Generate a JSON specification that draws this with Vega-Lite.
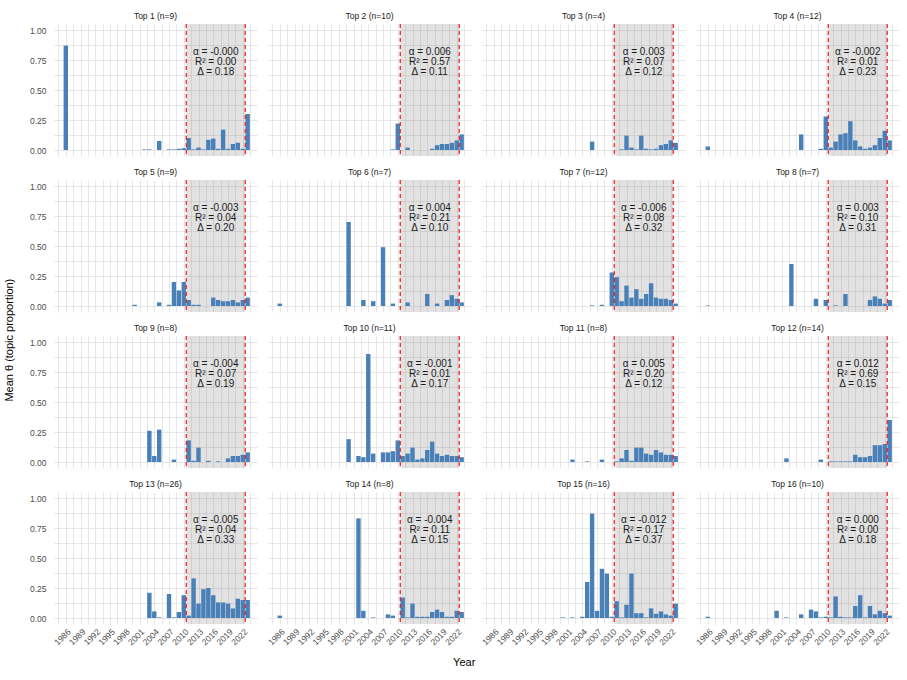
{
  "$schema": "https://vega.github.io/schema/vega-lite/v6.json",
  "background": "white",
  "padding": {"left": 4, "top": 11, "right": 4, "bottom": 4},
  "datasets": {
    "panels": [
      {"p": 1, "t": "Top 1 (n=9)", "lbl": "α = -0.000\nR² = 0.00\nΔ = 0.18", "win_lo": 2010.5, "win_hi": 2022.5},
      {"p": 2, "t": "Top 2 (n=10)", "lbl": "α = 0.006\nR² = 0.57\nΔ = 0.11", "win_lo": 2010.5, "win_hi": 2022.5},
      {"p": 3, "t": "Top 3 (n=4)", "lbl": "α = 0.003\nR² = 0.07\nΔ = 0.12", "win_lo": 2010.5, "win_hi": 2022.5},
      {"p": 4, "t": "Top 4 (n=12)", "lbl": "α = -0.002\nR² = 0.01\nΔ = 0.23", "win_lo": 2010.5, "win_hi": 2022.5},
      {"p": 5, "t": "Top 5 (n=9)", "lbl": "α = -0.003\nR² = 0.04\nΔ = 0.20", "win_lo": 2010.5, "win_hi": 2022.5},
      {"p": 6, "t": "Top 6 (n=7)", "lbl": "α = 0.004\nR² = 0.21\nΔ = 0.10", "win_lo": 2010.5, "win_hi": 2022.5},
      {"p": 7, "t": "Top 7 (n=12)", "lbl": "α = -0.006\nR² = 0.08\nΔ = 0.32", "win_lo": 2010.5, "win_hi": 2022.5},
      {"p": 8, "t": "Top 8 (n=7)", "lbl": "α = 0.003\nR² = 0.10\nΔ = 0.31", "win_lo": 2010.5, "win_hi": 2022.5},
      {"p": 9, "t": "Top 9 (n=8)", "lbl": "α = -0.004\nR² = 0.07\nΔ = 0.19", "win_lo": 2010.5, "win_hi": 2022.5},
      {"p": 10, "t": "Top 10 (n=11)", "lbl": "α = -0.001\nR² = 0.01\nΔ = 0.17", "win_lo": 2010.5, "win_hi": 2022.5},
      {"p": 11, "t": "Top 11 (n=8)", "lbl": "α = 0.005\nR² = 0.20\nΔ = 0.12", "win_lo": 2010.5, "win_hi": 2022.5},
      {"p": 12, "t": "Top 12 (n=14)", "lbl": "α = 0.012\nR² = 0.69\nΔ = 0.15", "win_lo": 2010.5, "win_hi": 2022.5},
      {"p": 13, "t": "Top 13 (n=26)", "lbl": "α = -0.005\nR² = 0.04\nΔ = 0.33", "win_lo": 2010.5, "win_hi": 2022.5},
      {"p": 14, "t": "Top 14 (n=8)", "lbl": "α = -0.004\nR² = 0.11\nΔ = 0.15", "win_lo": 2010.5, "win_hi": 2022.5},
      {"p": 15, "t": "Top 15 (n=16)", "lbl": "α = -0.012\nR² = 0.17\nΔ = 0.37", "win_lo": 2010.5, "win_hi": 2022.5},
      {"p": 16, "t": "Top 16 (n=10)", "lbl": "α = 0.000\nR² = 0.00\nΔ = 0.18", "win_lo": 2010.5, "win_hi": 2022.5}
    ],
    "bars": [
      {"p": 1, "year": 1986, "v": 0.87}, {"p": 1, "year": 2002, "v": 0.005}, {"p": 1, "year": 2003, "v": 0.005},
      {"p": 1, "year": 2005, "v": 0.075}, {"p": 1, "year": 2007, "v": 0.005}, {"p": 1, "year": 2008, "v": 0.005},
      {"p": 1, "year": 2009, "v": 0.01}, {"p": 1, "year": 2010, "v": 0.015}, {"p": 1, "year": 2011, "v": 0.1},
      {"p": 1, "year": 2012, "v": 0.005}, {"p": 1, "year": 2013, "v": 0.02}, {"p": 1, "year": 2014, "v": 0.005},
      {"p": 1, "year": 2015, "v": 0.085}, {"p": 1, "year": 2016, "v": 0.095}, {"p": 1, "year": 2017, "v": 0.01},
      {"p": 1, "year": 2018, "v": 0.17}, {"p": 1, "year": 2019, "v": 0.01}, {"p": 1, "year": 2020, "v": 0.05},
      {"p": 1, "year": 2021, "v": 0.06}, {"p": 1, "year": 2022, "v": 0.01}, {"p": 1, "year": 2023, "v": 0.3},

      {"p": 2, "year": 2009, "v": 0.005}, {"p": 2, "year": 2010, "v": 0.22}, {"p": 2, "year": 2012, "v": 0.02},
      {"p": 2, "year": 2017, "v": 0.01}, {"p": 2, "year": 2018, "v": 0.04}, {"p": 2, "year": 2019, "v": 0.05},
      {"p": 2, "year": 2020, "v": 0.05}, {"p": 2, "year": 2021, "v": 0.06}, {"p": 2, "year": 2022, "v": 0.08},
      {"p": 2, "year": 2023, "v": 0.13},

      {"p": 3, "year": 2006, "v": 0.07}, {"p": 3, "year": 2012, "v": 0.005}, {"p": 3, "year": 2013, "v": 0.12},
      {"p": 3, "year": 2014, "v": 0.02}, {"p": 3, "year": 2015, "v": 0.005}, {"p": 3, "year": 2016, "v": 0.12},
      {"p": 3, "year": 2017, "v": 0.01}, {"p": 3, "year": 2018, "v": 0.005}, {"p": 3, "year": 2019, "v": 0.01},
      {"p": 3, "year": 2020, "v": 0.04}, {"p": 3, "year": 2021, "v": 0.05}, {"p": 3, "year": 2022, "v": 0.08},
      {"p": 3, "year": 2023, "v": 0.06},

      {"p": 4, "year": 1986, "v": 0.03}, {"p": 4, "year": 2005, "v": 0.13}, {"p": 4, "year": 2009, "v": 0.01},
      {"p": 4, "year": 2010, "v": 0.28}, {"p": 4, "year": 2011, "v": 0.02}, {"p": 4, "year": 2012, "v": 0.07},
      {"p": 4, "year": 2013, "v": 0.13}, {"p": 4, "year": 2014, "v": 0.14}, {"p": 4, "year": 2015, "v": 0.24},
      {"p": 4, "year": 2016, "v": 0.08}, {"p": 4, "year": 2017, "v": 0.03}, {"p": 4, "year": 2018, "v": 0.01},
      {"p": 4, "year": 2019, "v": 0.02}, {"p": 4, "year": 2020, "v": 0.04}, {"p": 4, "year": 2021, "v": 0.1},
      {"p": 4, "year": 2022, "v": 0.16}, {"p": 4, "year": 2023, "v": 0.08},

      {"p": 5, "year": 2000, "v": 0.01}, {"p": 5, "year": 2005, "v": 0.03}, {"p": 5, "year": 2007, "v": 0.01},
      {"p": 5, "year": 2008, "v": 0.2}, {"p": 5, "year": 2009, "v": 0.13}, {"p": 5, "year": 2010, "v": 0.2},
      {"p": 5, "year": 2011, "v": 0.05}, {"p": 5, "year": 2012, "v": 0.01}, {"p": 5, "year": 2013, "v": 0.01},
      {"p": 5, "year": 2016, "v": 0.07}, {"p": 5, "year": 2017, "v": 0.05}, {"p": 5, "year": 2018, "v": 0.04},
      {"p": 5, "year": 2019, "v": 0.04}, {"p": 5, "year": 2020, "v": 0.05}, {"p": 5, "year": 2021, "v": 0.03},
      {"p": 5, "year": 2022, "v": 0.05}, {"p": 5, "year": 2023, "v": 0.07},

      {"p": 6, "year": 1986, "v": 0.02}, {"p": 6, "year": 2000, "v": 0.7}, {"p": 6, "year": 2003, "v": 0.05},
      {"p": 6, "year": 2005, "v": 0.04}, {"p": 6, "year": 2007, "v": 0.49}, {"p": 6, "year": 2009, "v": 0.02},
      {"p": 6, "year": 2012, "v": 0.03}, {"p": 6, "year": 2016, "v": 0.1}, {"p": 6, "year": 2018, "v": 0.02},
      {"p": 6, "year": 2020, "v": 0.05}, {"p": 6, "year": 2021, "v": 0.09}, {"p": 6, "year": 2022, "v": 0.06},
      {"p": 6, "year": 2023, "v": 0.03},

      {"p": 7, "year": 2006, "v": 0.005}, {"p": 7, "year": 2008, "v": 0.01}, {"p": 7, "year": 2010, "v": 0.28},
      {"p": 7, "year": 2011, "v": 0.24}, {"p": 7, "year": 2012, "v": 0.04}, {"p": 7, "year": 2013, "v": 0.17},
      {"p": 7, "year": 2014, "v": 0.07}, {"p": 7, "year": 2015, "v": 0.14}, {"p": 7, "year": 2016, "v": 0.06},
      {"p": 7, "year": 2017, "v": 0.1}, {"p": 7, "year": 2018, "v": 0.19}, {"p": 7, "year": 2019, "v": 0.07},
      {"p": 7, "year": 2020, "v": 0.06}, {"p": 7, "year": 2021, "v": 0.06}, {"p": 7, "year": 2022, "v": 0.05},
      {"p": 7, "year": 2023, "v": 0.02},

      {"p": 8, "year": 1986, "v": 0.005}, {"p": 8, "year": 2003, "v": 0.35}, {"p": 8, "year": 2008, "v": 0.06},
      {"p": 8, "year": 2010, "v": 0.05}, {"p": 8, "year": 2012, "v": 0.005}, {"p": 8, "year": 2014, "v": 0.1},
      {"p": 8, "year": 2019, "v": 0.05}, {"p": 8, "year": 2020, "v": 0.08}, {"p": 8, "year": 2021, "v": 0.06},
      {"p": 8, "year": 2022, "v": 0.02}, {"p": 8, "year": 2023, "v": 0.05},

      {"p": 9, "year": 2003, "v": 0.26}, {"p": 9, "year": 2004, "v": 0.05}, {"p": 9, "year": 2005, "v": 0.27},
      {"p": 9, "year": 2008, "v": 0.02}, {"p": 9, "year": 2011, "v": 0.18}, {"p": 9, "year": 2012, "v": 0.01},
      {"p": 9, "year": 2013, "v": 0.12}, {"p": 9, "year": 2015, "v": 0.01}, {"p": 9, "year": 2017, "v": 0.005},
      {"p": 9, "year": 2019, "v": 0.03}, {"p": 9, "year": 2020, "v": 0.05}, {"p": 9, "year": 2021, "v": 0.05},
      {"p": 9, "year": 2022, "v": 0.06}, {"p": 9, "year": 2023, "v": 0.08},

      {"p": 10, "year": 2000, "v": 0.19}, {"p": 10, "year": 2002, "v": 0.05}, {"p": 10, "year": 2003, "v": 0.04},
      {"p": 10, "year": 2004, "v": 0.9}, {"p": 10, "year": 2005, "v": 0.07}, {"p": 10, "year": 2007, "v": 0.08},
      {"p": 10, "year": 2008, "v": 0.08}, {"p": 10, "year": 2009, "v": 0.09}, {"p": 10, "year": 2010, "v": 0.18},
      {"p": 10, "year": 2011, "v": 0.05}, {"p": 10, "year": 2012, "v": 0.07}, {"p": 10, "year": 2013, "v": 0.12},
      {"p": 10, "year": 2014, "v": 0.02}, {"p": 10, "year": 2015, "v": 0.03}, {"p": 10, "year": 2016, "v": 0.1},
      {"p": 10, "year": 2017, "v": 0.17}, {"p": 10, "year": 2018, "v": 0.07}, {"p": 10, "year": 2019, "v": 0.05},
      {"p": 10, "year": 2020, "v": 0.06}, {"p": 10, "year": 2021, "v": 0.05}, {"p": 10, "year": 2022, "v": 0.05},
      {"p": 10, "year": 2023, "v": 0.04},

      {"p": 11, "year": 2002, "v": 0.02}, {"p": 11, "year": 2005, "v": 0.005}, {"p": 11, "year": 2008, "v": 0.02},
      {"p": 11, "year": 2011, "v": 0.005}, {"p": 11, "year": 2012, "v": 0.03}, {"p": 11, "year": 2013, "v": 0.1},
      {"p": 11, "year": 2014, "v": 0.01}, {"p": 11, "year": 2015, "v": 0.12}, {"p": 11, "year": 2016, "v": 0.12},
      {"p": 11, "year": 2017, "v": 0.07}, {"p": 11, "year": 2018, "v": 0.06}, {"p": 11, "year": 2019, "v": 0.1},
      {"p": 11, "year": 2020, "v": 0.08}, {"p": 11, "year": 2021, "v": 0.06}, {"p": 11, "year": 2022, "v": 0.06},
      {"p": 11, "year": 2023, "v": 0.05},

      {"p": 12, "year": 2002, "v": 0.03}, {"p": 12, "year": 2009, "v": 0.02}, {"p": 12, "year": 2011, "v": 0.005},
      {"p": 12, "year": 2012, "v": 0.005}, {"p": 12, "year": 2013, "v": 0.005}, {"p": 12, "year": 2014, "v": 0.005},
      {"p": 12, "year": 2015, "v": 0.005}, {"p": 12, "year": 2016, "v": 0.06}, {"p": 12, "year": 2017, "v": 0.04},
      {"p": 12, "year": 2018, "v": 0.04}, {"p": 12, "year": 2019, "v": 0.05}, {"p": 12, "year": 2020, "v": 0.14},
      {"p": 12, "year": 2021, "v": 0.14}, {"p": 12, "year": 2022, "v": 0.15}, {"p": 12, "year": 2023, "v": 0.35},

      {"p": 13, "year": 2003, "v": 0.21}, {"p": 13, "year": 2004, "v": 0.055}, {"p": 13, "year": 2005, "v": 0.005},
      {"p": 13, "year": 2007, "v": 0.2}, {"p": 13, "year": 2008, "v": 0.005}, {"p": 13, "year": 2009, "v": 0.05},
      {"p": 13, "year": 2010, "v": 0.19}, {"p": 13, "year": 2011, "v": 0.02}, {"p": 13, "year": 2012, "v": 0.33},
      {"p": 13, "year": 2013, "v": 0.12}, {"p": 13, "year": 2014, "v": 0.24}, {"p": 13, "year": 2015, "v": 0.25},
      {"p": 13, "year": 2016, "v": 0.19}, {"p": 13, "year": 2017, "v": 0.13}, {"p": 13, "year": 2018, "v": 0.13},
      {"p": 13, "year": 2019, "v": 0.12}, {"p": 13, "year": 2020, "v": 0.08}, {"p": 13, "year": 2021, "v": 0.16},
      {"p": 13, "year": 2022, "v": 0.15}, {"p": 13, "year": 2023, "v": 0.15},

      {"p": 14, "year": 1986, "v": 0.02}, {"p": 14, "year": 2002, "v": 0.83}, {"p": 14, "year": 2003, "v": 0.06},
      {"p": 14, "year": 2005, "v": 0.005}, {"p": 14, "year": 2008, "v": 0.03}, {"p": 14, "year": 2009, "v": 0.02},
      {"p": 14, "year": 2011, "v": 0.17}, {"p": 14, "year": 2012, "v": 0.005}, {"p": 14, "year": 2013, "v": 0.12},
      {"p": 14, "year": 2014, "v": 0.01}, {"p": 14, "year": 2015, "v": 0.01}, {"p": 14, "year": 2016, "v": 0.01},
      {"p": 14, "year": 2017, "v": 0.05}, {"p": 14, "year": 2018, "v": 0.07}, {"p": 14, "year": 2019, "v": 0.05},
      {"p": 14, "year": 2020, "v": 0.01}, {"p": 14, "year": 2021, "v": 0.01}, {"p": 14, "year": 2022, "v": 0.06},
      {"p": 14, "year": 2023, "v": 0.05},

      {"p": 15, "year": 2000, "v": 0.005}, {"p": 15, "year": 2002, "v": 0.005}, {"p": 15, "year": 2004, "v": 0.01},
      {"p": 15, "year": 2005, "v": 0.3}, {"p": 15, "year": 2006, "v": 0.87}, {"p": 15, "year": 2007, "v": 0.06},
      {"p": 15, "year": 2008, "v": 0.41}, {"p": 15, "year": 2009, "v": 0.37}, {"p": 15, "year": 2010, "v": 0.01},
      {"p": 15, "year": 2011, "v": 0.14}, {"p": 15, "year": 2012, "v": 0.005}, {"p": 15, "year": 2013, "v": 0.11},
      {"p": 15, "year": 2014, "v": 0.37}, {"p": 15, "year": 2015, "v": 0.04}, {"p": 15, "year": 2016, "v": 0.04},
      {"p": 15, "year": 2017, "v": 0.005}, {"p": 15, "year": 2018, "v": 0.08}, {"p": 15, "year": 2019, "v": 0.035},
      {"p": 15, "year": 2020, "v": 0.055}, {"p": 15, "year": 2021, "v": 0.03}, {"p": 15, "year": 2022, "v": 0.02},
      {"p": 15, "year": 2023, "v": 0.12},

      {"p": 16, "year": 1986, "v": 0.01}, {"p": 16, "year": 2000, "v": 0.06}, {"p": 16, "year": 2002, "v": 0.005},
      {"p": 16, "year": 2005, "v": 0.03}, {"p": 16, "year": 2007, "v": 0.07}, {"p": 16, "year": 2008, "v": 0.055},
      {"p": 16, "year": 2009, "v": 0.005}, {"p": 16, "year": 2010, "v": 0.01}, {"p": 16, "year": 2011, "v": 0.005},
      {"p": 16, "year": 2012, "v": 0.18}, {"p": 16, "year": 2013, "v": 0.01}, {"p": 16, "year": 2014, "v": 0.005},
      {"p": 16, "year": 2015, "v": 0.005}, {"p": 16, "year": 2016, "v": 0.1}, {"p": 16, "year": 2017, "v": 0.19},
      {"p": 16, "year": 2018, "v": 0.005}, {"p": 16, "year": 2019, "v": 0.1}, {"p": 16, "year": 2020, "v": 0.03},
      {"p": 16, "year": 2021, "v": 0.06}, {"p": 16, "year": 2022, "v": 0.04}, {"p": 16, "year": 2023, "v": 0.02}
    ]
  },
  "title": {"text": "Mean θ (topic proportion)", "orient": "left", "anchor": "middle", "fontSize": 11, "fontWeight": "normal", "color": "#000000", "offset": 14},
  "vconcat": [
    {
      "data": {"name": "bars"},
      "transform": [
        {"lookup": "p", "from": {"data": {"name": "panels"}, "key": "p", "fields": ["t", "lbl", "win_lo", "win_hi"]}}
      ],
      "title": {"text": "Year", "orient": "bottom", "anchor": "middle", "fontSize": 11, "fontWeight": "normal", "color": "#000000", "offset": 11},
      "facet": {
        "field": "t",
        "type": "nominal",
        "sort": ["Top 1 (n=9)", "Top 2 (n=10)", "Top 3 (n=4)", "Top 4 (n=12)",
                 "Top 5 (n=9)", "Top 6 (n=7)", "Top 7 (n=12)", "Top 8 (n=7)",
                 "Top 9 (n=8)", "Top 10 (n=11)", "Top 11 (n=8)", "Top 12 (n=14)",
                 "Top 13 (n=26)", "Top 14 (n=8)", "Top 15 (n=16)", "Top 16 (n=10)"],
        "header": {"title": null, "labelFontSize": 8.5, "labelPadding": 3, "labelColor": "#1a1a1a"}
      },
      "columns": 4,
      "spacing": {"row": 10, "column": 11},
      "spec": {
        "width": 203,
        "height": 132,
        "layer": [
          {
            "transform": [{"aggregate": [{"op": "count", "as": "n"}], "groupby": ["t", "lbl", "win_lo", "win_hi"]}],
            "mark": {"type": "rect", "fill": "#8c8c8c", "opacity": 0.25},
            "encoding": {
              "x": {
                "field": "win_lo", "type": "quantitative", "title": null,
                "scale": {"domain": [1983.6, 2024.9], "nice": false, "zero": false, "padding": 0},
                "axis": {
                  "values": [1984.5, 1986, 1987.5, 1989, 1990.5, 1992, 1993.5, 1995, 1996.5, 1998, 1999.5, 2001, 2002.5,
                             2004, 2005.5, 2007, 2008.5, 2010, 2011.5, 2013, 2014.5, 2016, 2017.5, 2019, 2020.5, 2022, 2023.5],
                  "format": "d",
                  "labelExpr": "datum.value % 3 == 0 ? datum.label : ''",
                  "labelAngle": -45, "labelAlign": "right", "labelBaseline": "top",
                  "labelOverlap": false, "labelPadding": 2
                }
              },
              "x2": {"field": "win_hi"}
            }
          },
          {
            "mark": {"type": "bar", "size": 4.4, "color": "#4a80b8"},
            "encoding": {
              "x": {
                "field": "year", "type": "quantitative", "title": null,
                "scale": {"domain": [1983.6, 2024.9], "nice": false, "zero": false, "padding": 0},
                "axis": {
                  "values": [1984.5, 1986, 1987.5, 1989, 1990.5, 1992, 1993.5, 1995, 1996.5, 1998, 1999.5, 2001, 2002.5,
                             2004, 2005.5, 2007, 2008.5, 2010, 2011.5, 2013, 2014.5, 2016, 2017.5, 2019, 2020.5, 2022, 2023.5],
                  "format": "d",
                  "labelExpr": "datum.value % 3 == 0 ? datum.label : ''",
                  "labelAngle": -45, "labelAlign": "right", "labelBaseline": "top",
                  "labelOverlap": false, "labelPadding": 2
                }
              },
              "y": {
                "field": "v", "type": "quantitative", "title": null,
                "scale": {"domain": [-0.05, 1.05], "nice": false, "zero": false, "padding": 0},
                "axis": {
                  "values": [0, 0.125, 0.25, 0.375, 0.5, 0.625, 0.75, 0.875, 1],
                  "labelExpr": "(datum.value * 4) % 1 == 0 ? format(datum.value, '.2f') : ''",
                  "labelPadding": 8
                }
              }
            }
          },
          {
            "transform": [{"aggregate": [{"op": "count", "as": "n"}], "groupby": ["t", "lbl", "win_lo", "win_hi"]}],
            "mark": {"type": "rule", "color": "#ff0000", "strokeDash": [4, 3], "strokeWidth": 1.1},
            "encoding": {
              "x": {
                "field": "win_lo", "type": "quantitative", "title": null,
                "scale": {"domain": [1983.6, 2024.9], "nice": false, "zero": false, "padding": 0},
                "axis": {
                  "values": [1984.5, 1986, 1987.5, 1989, 1990.5, 1992, 1993.5, 1995, 1996.5, 1998, 1999.5, 2001, 2002.5,
                             2004, 2005.5, 2007, 2008.5, 2010, 2011.5, 2013, 2014.5, 2016, 2017.5, 2019, 2020.5, 2022, 2023.5],
                  "format": "d",
                  "labelExpr": "datum.value % 3 == 0 ? datum.label : ''",
                  "labelAngle": -45, "labelAlign": "right", "labelBaseline": "top",
                  "labelOverlap": false, "labelPadding": 2
                }
              }
            }
          },
          {
            "transform": [{"aggregate": [{"op": "count", "as": "n"}], "groupby": ["t", "lbl", "win_lo", "win_hi"]}],
            "mark": {"type": "rule", "color": "#ff0000", "strokeDash": [4, 3], "strokeWidth": 1.1},
            "encoding": {
              "x": {
                "field": "win_hi", "type": "quantitative", "title": null,
                "scale": {"domain": [1983.6, 2024.9], "nice": false, "zero": false, "padding": 0},
                "axis": {
                  "values": [1984.5, 1986, 1987.5, 1989, 1990.5, 1992, 1993.5, 1995, 1996.5, 1998, 1999.5, 2001, 2002.5,
                             2004, 2005.5, 2007, 2008.5, 2010, 2011.5, 2013, 2014.5, 2016, 2017.5, 2019, 2020.5, 2022, 2023.5],
                  "format": "d",
                  "labelExpr": "datum.value % 3 == 0 ? datum.label : ''",
                  "labelAngle": -45, "labelAlign": "right", "labelBaseline": "top",
                  "labelOverlap": false, "labelPadding": 2
                }
              }
            }
          },
          {
            "transform": [{"aggregate": [{"op": "count", "as": "n"}], "groupby": ["t", "lbl", "win_lo", "win_hi"]}],
            "mark": {"type": "text", "fontSize": 10, "lineBreak": "\n", "lineHeight": 10, "align": "center", "baseline": "middle", "dx": 29.5, "dy": -38, "color": "#1a1a1a"},
            "encoding": {
              "x": {
                "field": "win_lo", "type": "quantitative", "title": null,
                "scale": {"domain": [1983.6, 2024.9], "nice": false, "zero": false, "padding": 0},
                "axis": {
                  "values": [1984.5, 1986, 1987.5, 1989, 1990.5, 1992, 1993.5, 1995, 1996.5, 1998, 1999.5, 2001, 2002.5,
                             2004, 2005.5, 2007, 2008.5, 2010, 2011.5, 2013, 2014.5, 2016, 2017.5, 2019, 2020.5, 2022, 2023.5],
                  "format": "d",
                  "labelExpr": "datum.value % 3 == 0 ? datum.label : ''",
                  "labelAngle": -45, "labelAlign": "right", "labelBaseline": "top",
                  "labelOverlap": false, "labelPadding": 2
                }
              },
              "text": {"field": "lbl", "type": "nominal"}
            }
          }
        ]
      }
    }
  ],
  "config": {
    "font": "Liberation Sans",
    "view": {"stroke": null},
    "axis": {
      "domain": false, "ticks": false,
      "labelColor": "#4d4d4d", "labelFontSize": 8.5,
      "gridColor": "#d6d6d6", "gridWidth": 0.6
    },
    "header": {"labelFont": "Liberation Sans"}
  }
}
